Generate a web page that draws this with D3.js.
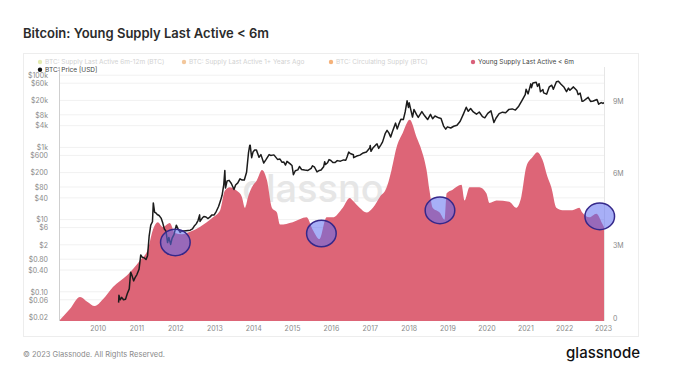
<!DOCTYPE html>
<html><head><meta charset="utf-8">
<script src="https://cdn.jsdelivr.net/npm/d3@7"></script>
<style>body{margin:0;background:#fff;}svg{display:block;font-family:Inter,"Open Sans",sans-serif;}</style>
</head><body><svg id="c" width="680" height="380"></svg>
<script>
// ---- data ----
const supplyDates = ["2009-01-03","2009-04-15","2009-07-20","2009-09-25","2009-12-05","2010-02-20","2010-05-25","2010-10-05","2011-02-01","2011-04-20","2011-06-05","2011-07-20","2011-09-05","2011-11-10","2011-12-28","2012-03-03","2012-05-18","2012-08-18","2012-12-20","2013-02-25","2013-04-10","2013-05-26","2013-08-01","2013-09-17","2013-10-16","2013-11-14","2013-12-20","2014-02-06","2014-03-25","2014-05-10","2014-06-26","2014-08-12","2014-09-10","2015-01-08","2015-05-19","2015-07-13","2015-09-17","2015-11-22","2016-01-19","2016-04-22","2016-06-27","2016-07-24","2016-09-27","2016-12-01","2017-01-30","2017-04-05","2017-06-09","2017-07-24","2017-09-09","2017-11-06","2018-01-11","2018-03-18","2018-05-01","2018-06-18","2018-07-16","2018-08-14","2018-10-19","2018-12-05","2018-12-24","2019-02-18","2019-05-12","2019-06-10","2019-07-27","2019-10-27","2020-01-01","2020-01-30","2020-04-05","2020-08-03","2020-10-08","2020-11-24","2021-01-10","2021-03-10","2021-04-23","2021-06-10","2021-07-27","2021-09-02","2021-10-19","2021-12-15","2022-03-18","2022-05-22","2022-06-20","2022-08-25","2022-10-30","2022-12-24","2023-01-10"];
const supplyValues = [0,0.5e6,1.0e6,0.8e6,0.62e6,0.9e6,1.41e6,1.9e6,2.5e6,3.0e6,3.8e6,4.1e6,3.9e6,4.07e6,3.65e6,3.6e6,3.7e6,3.9e6,4.3e6,4.6e6,5.4e6,5.55e6,5.4e6,5.15e6,4.7e6,5.15e6,5.55e6,5.85e6,6.27e6,5.85e6,4.7e6,4.5e6,4.0e6,4.1e6,4.3e6,3.8e6,3.4e6,4.3e6,4.3e6,4.7e6,5.1e6,5.0e6,4.7e6,4.5e6,4.7e6,5.15e6,5.55e6,6.27e6,7.2e6,7.8e6,8.35e6,7.6e6,7.1e6,6.27e6,5.4e6,4.7e6,4.5e6,4.2e6,5.3e6,5.45e6,5.65e6,5.0e6,5.55e6,5.55e6,5.3e6,4.9e6,5.0e6,4.95e6,4.7e6,5.15e6,6.4e6,6.8e6,7.0e6,6.7e6,6.0e6,5.55e6,4.7e6,4.6e6,4.6e6,4.7e6,4.5e6,4.3e6,4.45e6,4.05e6,3.9e6];

const priceDates = ["2010-07-17","2010-07-20","2010-08-01","2010-08-15","2010-09-01","2010-09-20","2010-10-07","2010-10-25","2010-11-07","2010-11-20","2010-12-05","2010-12-20","2011-01-05","2011-01-25","2011-02-10","2011-02-25","2011-03-15","2011-04-01","2011-04-15","2011-04-30","2011-05-15","2011-05-31","2011-06-08","2011-06-20","2011-07-01","2011-07-15","2011-08-01","2011-08-20","2011-09-05","2011-09-20","2011-10-05","2011-10-20","2011-11-01","2011-11-18","2011-12-01","2011-12-20","2012-01-10","2012-01-25","2012-02-15","2012-03-01","2012-03-20","2012-04-10","2012-05-01","2012-05-20","2012-06-10","2012-06-25","2012-07-15","2012-08-01","2012-08-16","2012-08-20","2012-09-10","2012-09-25","2012-10-15","2012-11-01","2012-11-20","2012-12-10","2012-12-31","2013-01-20","2013-02-10","2013-02-28","2013-03-15","2013-03-31","2013-04-10","2013-04-16","2013-05-01","2013-05-20","2013-06-10","2013-07-05","2013-07-20","2013-08-10","2013-08-30","2013-09-20","2013-10-10","2013-10-31","2013-11-18","2013-11-30","2013-12-04","2013-12-18","2013-12-31","2014-01-15","2014-02-01","2014-02-25","2014-03-15","2014-04-10","2014-04-30","2014-05-31","2014-06-15","2014-07-15","2014-08-18","2014-09-10","2014-09-30","2014-10-15","2014-11-01","2014-11-15","2014-12-15","2015-01-01","2015-01-14","2015-02-01","2015-02-25","2015-03-12","2015-04-01","2015-04-30","2015-05-31","2015-06-30","2015-07-12","2015-08-01","2015-08-24","2015-09-15","2015-10-01","2015-10-25","2015-11-04","2015-11-12","2015-12-01","2015-12-15","2016-01-01","2016-01-20","2016-02-10","2016-03-01","2016-03-31","2016-04-30","2016-05-20","2016-06-01","2016-06-17","2016-07-01","2016-07-31","2016-08-02","2016-08-31","2016-09-30","2016-10-31","2016-11-30","2016-12-31","2017-01-05","2017-01-12","2017-02-01","2017-02-28","2017-03-10","2017-03-25","2017-04-15","2017-05-01","2017-05-25","2017-06-12","2017-06-30","2017-07-16","2017-08-01","2017-08-31","2017-09-15","2017-09-30","2017-10-20","2017-11-12","2017-11-30","2017-12-17","2017-12-30","2018-01-06","2018-02-06","2018-02-20","2018-03-15","2018-04-01","2018-05-05","2018-05-31","2018-06-28","2018-07-25","2018-08-14","2018-09-05","2018-10-10","2018-11-01","2018-11-25","2018-12-15","2018-12-31","2019-01-31","2019-02-28","2019-03-31","2019-04-30","2019-05-31","2019-06-26","2019-07-15","2019-08-06","2019-08-31","2019-09-30","2019-10-26","2019-11-25","2019-12-17","2020-01-14","2020-02-13","2020-03-12","2020-03-31","2020-04-30","2020-05-31","2020-06-30","2020-07-31","2020-08-31","2020-09-30","2020-10-31","2020-11-30","2020-12-31","2021-01-08","2021-01-27","2021-02-21","2021-02-28","2021-03-13","2021-04-13","2021-04-25","2021-05-10","2021-05-23","2021-06-15","2021-06-22","2021-07-20","2021-08-14","2021-09-06","2021-09-21","2021-10-20","2021-11-08","2021-11-30","2021-12-31","2022-01-23","2022-02-10","2022-02-24","2022-03-29","2022-04-30","2022-05-12","2022-05-31","2022-06-18","2022-07-01","2022-08-14","2022-09-06","2022-10-01","2022-11-05","2022-11-21","2022-12-15","2022-12-31","2023-01-10"];
const priceValues = [0.05,0.08,0.06,0.07,0.06,0.062,0.09,0.12,0.35,0.28,0.2,0.25,0.3,0.42,1.05,0.9,0.87,0.78,1.0,3.5,7,8.7,29,16,15.4,13.8,13,11,8,5.5,4.8,2.3,3.2,2.05,3.0,3.9,7,5.6,4.4,4.9,4.8,4.9,5.0,5.1,5.5,6.5,7.6,9.4,13.5,8.9,11,12.2,11.8,10.7,11.7,13.5,13.4,17,23,33,47,93,230,75,117,122,100,68,91,104,135,124,125,204,700,1130,1150,520,750,840,840,535,630,370,450,630,600,620,465,475,385,395,325,410,350,315,175,225,238,295,245,235,230,263,310,282,210,230,237,290,400,335,375,460,433,380,380,430,416,450,440,540,740,675,625,520,575,610,700,745,960,1130,780,980,1190,1250,940,1180,1420,2400,2960,2480,1930,2720,4700,3250,4340,6000,5900,9900,19500,12800,17200,6900,11200,8200,6800,9800,7500,5900,8200,6200,7400,6600,6350,3900,3200,3700,3450,3850,4100,5300,8500,12900,10000,11900,9600,8300,9550,7100,6600,8800,10300,4900,6400,8650,9450,9150,11300,11650,10800,13800,19700,29000,40700,30400,57500,45200,61200,63500,49000,58000,34700,40000,32500,29800,47800,52700,40700,66000,67500,57000,46300,35000,44000,38300,47400,37700,29000,31800,19000,19300,24400,18800,19300,21300,15800,17400,16550,17400];

const yearTicks = ["2010","2011","2012","2013","2014","2015","2016","2017","2018","2019","2020","2021","2022","2023"];
const priceTicks = [0.02,0.06,0.1,0.4,0.8,2,6,10,40,80,200,600,1000,4000,8000,20000,60000,100000];
const priceTickLabels = ["$0.02","$0.06","$0.10","$0.40","$0.80","$2","$6","$10","$40","$80","$200","$600","$1k","$4k","$8k","$20k","$60k","$100k"];
const supplyTicks = [0,3e6,6e6,9e6];
const supplyTickLabels = ["0","3M","6M","9M"];
const legendLabels = ["BTC: Supply Last Active 6m-12m (BTC)","BTC: Supply Last Active 1+ Years Ago","BTC: Circulating Supply (BTC)","Young Supply Last Active < 6m"];
const annotationDates = ["2012-01-01","2015-10-04","2018-10-22","2022-12-01"];
const annotationValues = [3.26e6,3.63e6,4.59e6,4.34e6];

// ---- layout ----
const svg = d3.select("#c");
const L=59, R=604, T=67, B=321;
const parse = d3.timeParse("%Y-%m-%d");
const x = d3.scaleTime().domain([parse("2009-01-03"), parse("2023-01-10")]).range([L,R]);
const yP = d3.scaleLog().domain([0.02,100000]).range([317,75.2]);
const yS = d3.scaleLinear().domain([0,10e6]).range([B,B-241]);

svg.append("rect").attr("width",680).attr("height",380).attr("fill","#fff");
svg.append("rect").attr("x",23.5).attr("y",53.5).attr("width",615).attr("height",283)
  .attr("fill","#fff").attr("stroke","#ededed");

svg.append("text").attr("x",23).attr("y",37.5).text("Bitcoin: Young Supply Last Active < 6m")
  .attr("font-size",13).attr("font-weight",600).attr("fill","#2b2b2b");

// gridlines
svg.append("g").selectAll("line").data(priceTicks).join("line")
  .attr("x1",L).attr("x2",R).attr("y1",d=>yP(d)).attr("y2",d=>yP(d))
  .attr("stroke","#f1f1f1").attr("stroke-width",1);

// watermark
svg.append("text").attr("x",336).attr("y",202).attr("text-anchor","middle")
  .attr("font-size",38).attr("font-weight",500).attr("fill","#e6e6e6").text("glassnode");

// area
const supply = supplyDates.map((d,i)=>({d:parse(d),v:supplyValues[i]}));
svg.append("path").datum(supply)
  .attr("d",d3.area().x(d=>x(d.d)).y0(B).y1(d=>yS(d.v)).curve(d3.curveMonotoneX))
  .attr("fill","#dd6577");

// price line
const price = priceDates.map((d,i)=>({d:parse(d),v:priceValues[i]}));
svg.append("path").datum(price)
  .attr("d",d3.line().x(d=>x(d.d)).y(d=>yP(d.v)))
  .attr("fill","none").attr("stroke","#1c1c1c").attr("stroke-width",1.5).attr("stroke-linejoin","round");

// axes lines
svg.append("line").attr("x1",L+0.5).attr("x2",L+0.5).attr("y1",T).attr("y2",B).attr("stroke","#cfcfcf");
svg.append("line").attr("x1",R+0.5).attr("x2",R+0.5).attr("y1",T).attr("y2",B).attr("stroke","#e6e6e6");

// x axis
const xa = svg.append("g").attr("transform",`translate(0,${B})`)
  .call(d3.axisBottom(x).tickValues(yearTicks.map(y=>parse(y+"-01-01"))).tickSize(0).tickPadding(5).tickFormat(d3.timeFormat("%Y")));
xa.select(".domain").remove();
xa.selectAll("text").attr("font-size",7).attr("fill","#8a8a8a").attr("font-family","Inter");

// left axis
const la = svg.append("g").attr("transform",`translate(${L},0)`)
  .call(d3.axisLeft(yP).tickValues(priceTicks).tickSize(0).tickPadding(11).tickFormat((d,i)=>priceTickLabels[i]));
la.select(".domain").remove();
la.selectAll("text").attr("font-size",7).attr("fill","#8a8a8a").attr("font-family","Inter");

// right axis
const ra = svg.append("g").attr("transform",`translate(${R},0)`)
  .call(d3.axisRight(yS).tickValues(supplyTicks).tickSize(0).tickPadding(9).tickFormat((d,i)=>supplyTickLabels[i]));
ra.select(".domain").remove();
ra.selectAll("text").attr("font-size",7).attr("fill","#8a8a8a").attr("font-family","Inter").attr("y",-3);

// legend
const legendX = [40,184,331,473];
const legendColors = ["#e3ebb0","#f3c79b","#f5b27a","#d9607a"];
legendLabels.forEach((t,i)=>{
  const faded = i<3;
  svg.append("circle").attr("cx",legendX[i]).attr("cy",62).attr("r",2.2).attr("fill",legendColors[i]);
  svg.append("text").attr("x",legendX[i]+5).attr("y",64.3).attr("font-size",6.5)
    .attr("fill",faded?"#d2d2d2":"#444").text(t);
});
svg.append("circle").attr("cx",40).attr("cy",69.8).attr("r",2.2).attr("fill","#111");
svg.append("text").attr("x",45).attr("y",72.2).attr("font-size",6.5).attr("fill","#444").text("BTC: Price [USD]");

// annotations
svg.append("g").selectAll("ellipse").data(annotationDates).join("ellipse")
  .attr("cx",d=>x(parse(d))).attr("cy",(d,i)=>yS(annotationValues[i]))
  .attr("rx",14.8).attr("ry",13.3)
  .attr("fill","rgba(95,110,240,0.55)").attr("stroke","#35288a").attr("stroke-width",1.5);

// footer
svg.append("text").attr("x",23).attr("y",357).attr("font-size",7.5).attr("fill","#8a8a8a")
  .text("© 2023 Glassnode. All Rights Reserved.");
svg.append("text").attr("x",640).attr("y",358).attr("text-anchor","end").attr("font-size",15)
  .attr("font-weight",500).attr("fill","#111").text("glassnode");
</script></body></html>
